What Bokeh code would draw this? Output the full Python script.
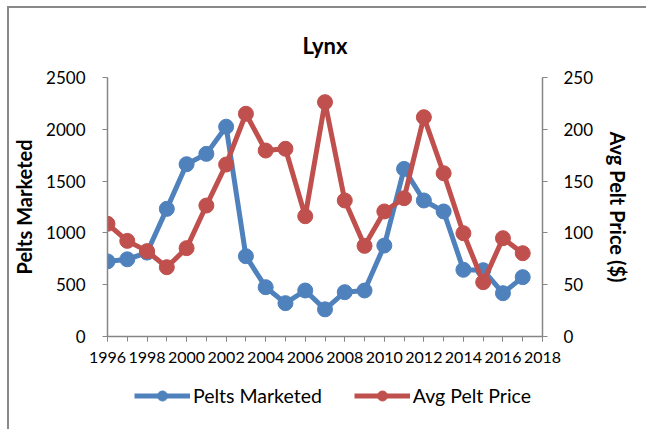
from bokeh.plotting import figure
from bokeh.layouts import column
from bokeh.models import (Range1d, LinearAxis, SingleIntervalTicker, Legend, LegendItem,
                          ColumnDataSource)
from bokeh.embed import file_html
from bokeh.resources import INLINE

years = list(range(1996, 2018))
pelts = [725, 745, 810, 1232, 1663, 1763, 2025, 775, 476, 322, 444, 262,
         428, 444, 878, 1618, 1313, 1207, 644, 640, 418, 573]
price = [108.8, 92.3, 82.4, 66.9, 85.3, 126.4, 166, 215, 179.5, 181.2, 116.1, 226.2,
         131.3, 87.5, 120.7, 133.5, 211.7, 157.6, 99.7, 52.4, 94.9, 80.4]

title_text = "Lynx"
left_label = "Pelts Marketed"
right_label = "Avg Pelt Price ($)"
series_names = ["Pelts Marketed", "Avg Pelt Price"]

BLUE = "#4F81BD"
RED = "#C0504D"
GRAY = "#868686"
FONT = "Lato"

src = ColumnDataSource(dict(year=years, pelts=pelts, price=price))

p = figure(width=637, height=364, output_backend="svg", toolbar_location=None,
           x_range=Range1d(1996, 2018), y_range=Range1d(0, 2500),
           min_border_left=98, min_border_right=104, min_border_top=69,
           min_border_bottom=36)
p.extra_y_ranges = {"price": Range1d(0, 250)}
p.xgrid.visible = False
p.ygrid.visible = False
p.outline_line_color = None
p.background_fill_color = "white"
p.border_fill_color = "white"

p.title.text = title_text
p.title.align = "center"
p.title.text_font = FONT
p.title.text_font_size = "22px"
p.title.text_font_style = "bold"
p.title.text_color = "black"
p.title.standoff = 37

def style_axis(ax):
    ax.axis_line_color = GRAY
    ax.axis_line_width = 1.5
    ax.major_tick_line_color = GRAY
    ax.minor_tick_line_color = GRAY
    ax.major_tick_in = 0
    ax.major_tick_out = 5
    ax.minor_tick_in = 0
    ax.minor_tick_out = 5
    ax.major_label_text_font = FONT
    ax.major_label_text_font_size = "17px"
    ax.major_label_text_color = "black"
    ax.axis_label_text_font = FONT
    ax.axis_label_text_font_size = "20px"
    ax.axis_label_text_font_style = "bold"
    ax.axis_label_text_color = "black"

xa = p.xaxis[0]
xa.ticker = SingleIntervalTicker(interval=2, num_minor_ticks=2)
style_axis(xa)
xa.major_label_standoff = 10
xa.major_label_text_font_size = "16px"

ya = p.yaxis[0]
ya.ticker = SingleIntervalTicker(interval=500, num_minor_ticks=0)
style_axis(ya)
ya.axis_label = left_label
ya.major_label_standoff = 17
ya.axis_label_standoff = 7

ra = LinearAxis(y_range_name="price", ticker=SingleIntervalTicker(interval=50, num_minor_ticks=0))
style_axis(ra)
ra.axis_label = right_label
ra.major_label_standoff = 16
ra.axis_label_standoff = 10
p.add_layout(ra, "right")

p.line("year", "pelts", source=src, line_color=BLUE, line_width=5)
p.scatter("year", "pelts", source=src, size=15, fill_color=BLUE, line_color=BLUE)
p.line("year", "price", source=src, line_color=RED, line_width=5, y_range_name="price")
p.scatter("year", "price", source=src, size=15, fill_color=RED, line_color=RED,
          y_range_name="price")

# legend strip below the chart (its renderers fall outside its own ranges)
lg = figure(width=637, height=57, output_backend="svg", toolbar_location=None,
            x_range=Range1d(0, 1), y_range=Range1d(0, 1),
            min_border_left=98, min_border_right=104, min_border_top=0, min_border_bottom=0)
lg.axis.visible = False
lg.grid.visible = False
lg.outline_line_color = None
lg.border_fill_color = "white"
b1 = lg.line("year", "pelts", source=src, line_color=BLUE, line_width=5)
b2 = lg.scatter("year", "pelts", source=src, size=14, fill_color=BLUE, line_color=BLUE)
r1 = lg.line("year", "price", source=src, line_color=RED, line_width=5)
r2 = lg.scatter("year", "price", source=src, size=14, fill_color=RED, line_color=RED)
legend = Legend(items=[LegendItem(label=series_names[0], renderers=[b1, b2]),
                       LegendItem(label=series_names[1], renderers=[r1, r2])],
                orientation="horizontal", location=(27, 21))
legend.label_text_font = FONT
legend.label_text_font_size = "19.5px"
legend.label_text_color = "black"
legend.glyph_width = 56
legend.glyph_height = 25
legend.label_standoff = 3
legend.spacing = 32
legend.padding = 0
legend.margin = 0
legend.border_line_color = None
legend.background_fill_alpha = 0
lg.add_layout(legend, "center")

layout = column(p, lg, spacing=0, margin=(6, 0, 0, 7),
                styles={"border-left": "2px solid #898989", "border-top": "2px solid #898989"})
open("out.html", "w").write(file_html(layout, INLINE))
